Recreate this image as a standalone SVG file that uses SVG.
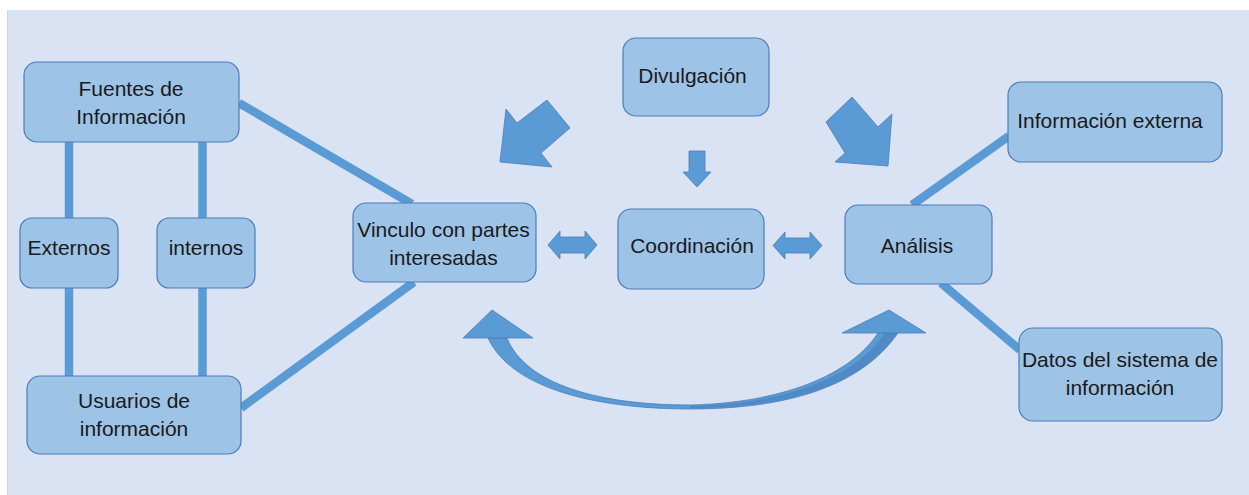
<svg xmlns="http://www.w3.org/2000/svg" width="1249" height="495" viewBox="0 0 1249 495">
  <style>
    .node rect { fill: #9DC3E6; stroke: #4A7EBB; stroke-width: 1.2; }
    .node text { font-family: "Liberation Sans", Arial, sans-serif; font-size: 21px; fill: #1a1a1a; text-anchor: middle; }
    .conn line { stroke: #5B9BD5; stroke-width: 8.5; }
    .blk { fill: #5B9BD5; stroke: #4A7EBB; stroke-width: 0.8; }
  </style>
  <rect x="0" y="0" width="1249" height="495" fill="#FFFFFF"/>
  <rect x="8" y="10" width="1241" height="485" fill="#DAE3F3"/>
  <line x1="7.5" y1="10" x2="7.5" y2="495" stroke="#D0D4DA" stroke-width="1"/>

  <g id="connectors" class="conn">
    <line x1="69" y1="142" x2="69" y2="218"/>
    <line x1="69" y1="288" x2="69" y2="376"/>
    <line x1="202.5" y1="142" x2="202.5" y2="218"/>
    <line x1="202.5" y1="288" x2="202.5" y2="376"/>
    <line x1="239" y1="103" x2="412" y2="204"/>
    <line x1="241" y1="408" x2="414" y2="282"/>
    <line x1="912" y1="205" x2="1009" y2="136"/>
    <line x1="941" y1="283" x2="1020" y2="350"/>
    <polygon class="blk" points="548,245 560,231 560,237 585,237 585,231 597,245 585,259 585,253 560,253 560,259"/>
    <polygon class="blk" points="773,245.5 785,232 785,238 810,238 810,232 822,245.5 810,259 810,253 785,253 785,259"/>
    <polygon class="blk" points="689,151 705,151 705,172 711,172 697,187 683,172 689,172"/>
    <polygon class="blk" points="500,162 506,109 517,123 547,100 570,128 541,153 552,167"/>
    <polygon class="blk" points="888,166 892,114 878,127 852,97 826,122 845,153 835,162"/>
    <path class="blk" d="M 488 338 C 512 390 600 409 690 409 C 790 409 862 385 898 333 L 878 333 C 850 376 780 403 690 405 C 600 405 526 385 507 338 Z"/>
    <path d="M 690 408 C 790 408 862 385 897 333 L 885 333 C 855 378 785 404 690 406 Z" fill="#4A7EBB" opacity="0.6"/>
    <polygon class="blk" points="492,310 533,338 463,338"/>
    <polygon class="blk" points="889,310 926,333 842,333"/>
  </g>

  <g id="fuentes" class="node">
    <rect x="24" y="62" width="215" height="80" rx="13"/>
    <text x="131" y="96">Fuentes de</text>
    <text x="131" y="124">Información</text>
  </g>
  <g id="externos" class="node">
    <rect x="20" y="218" width="98" height="70" rx="12"/>
    <text x="69" y="255">Externos</text>
  </g>
  <g id="internos" class="node">
    <rect x="157" y="218" width="98" height="70" rx="12"/>
    <text x="206" y="255">internos</text>
  </g>
  <g id="usuarios" class="node">
    <rect x="27" y="376" width="214" height="78" rx="13"/>
    <text x="134" y="408">Usuarios de</text>
    <text x="134" y="436">información</text>
  </g>
  <g id="vinculo" class="node">
    <rect x="353" y="203" width="183" height="79" rx="13"/>
    <text x="443.5" y="237">Vinculo con partes</text>
    <text x="443.5" y="265">interesadas</text>
  </g>
  <g id="divulgacion" class="node">
    <rect x="623" y="38" width="146" height="78" rx="13"/>
    <text x="692.5" y="83">Divulgación</text>
  </g>
  <g id="coordinacion" class="node">
    <rect x="618" y="209" width="146" height="80" rx="13"/>
    <text x="692" y="253">Coordinación</text>
  </g>
  <g id="analisis" class="node">
    <rect x="845" y="205" width="147" height="79" rx="13"/>
    <text x="917" y="253">Análisis</text>
  </g>
  <g id="info-externa" class="node">
    <rect x="1008" y="82" width="214" height="80" rx="13"/>
    <text x="1110" y="128">Información externa</text>
  </g>
  <g id="datos" class="node">
    <rect x="1019" y="328" width="203" height="93" rx="14"/>
    <text x="1120" y="367">Datos del sistema de</text>
    <text x="1120" y="395">información</text>
  </g>
</svg>
